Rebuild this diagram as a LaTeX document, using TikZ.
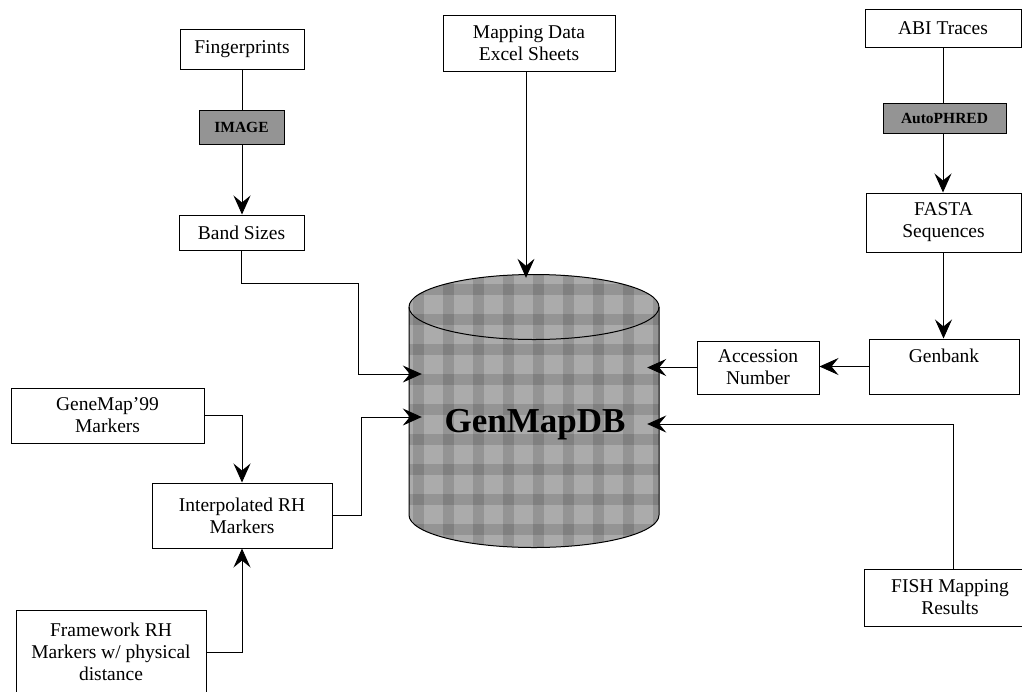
\documentclass[tikz,border=0pt]{standalone}
\usepackage{fontspec}
\setmainfont{Liberation Serif}
\usetikzlibrary{arrows.meta,calc}
\tikzset{
  box/.style={draw, line width=1pt, align=center, inner sep=0pt, fill=white,
    font=\fontsize{19.5}{22}\selectfont},
  toolbox/.style={draw, line width=1pt, fill=black!42, inner sep=0pt,
    font=\bfseries\fontsize{15.5}{18}\selectfont},
  conn/.style={line width=0.9pt},
  arr/.style={conn, -{Stealth[length=19pt,width=17pt,inset=7pt]}},
  cylline/.style={line width=1pt}
}
\begin{document}
\begin{tikzpicture}[x=1pt,y=-1pt]
\fill[white] (0,0) rectangle (1022,691);
\useasboundingbox (0,0) rectangle (1022,691);

% boxes
\node[box, minimum width=124pt, minimum height=40pt] (fp) at (242,49) {Fingerprints};
\node[box, minimum width=125pt, minimum height=35pt] (band) at (241.5,232.5) {Band Sizes};
\node[box, minimum width=172pt, minimum height=56pt] (map) at (529,43) {Mapping Data\\Excel Sheets};
\node[box, minimum width=156pt, minimum height=38pt] (abi) at (943,28) {ABI Traces};
\node[box, minimum width=155pt, minimum height=59pt] (fasta) at (943.5,222.5) {FASTA\\Sequences};
\node[box, minimum width=150pt, minimum height=55pt] (gen) at (944,366.5) {Genbank\\\mbox{}};
\node[box, minimum width=122pt, minimum height=53pt] (acc) at (758,367.5) {Accession\\Number};
\node[box, minimum width=172pt, minimum height=57pt] (fish) at (950,597.5) {FISH Mapping\\Results};
\node[box, minimum width=193pt, minimum height=55pt] (gmap) at (107.5,415.5) {GeneMap’99\\Markers};
\node[box, minimum width=180pt, minimum height=65pt] (interp) at (242,515.5) {Interpolated RH\\Markers};
\node[box, minimum width=190pt, minimum height=84pt] (frame) at (111,652) {Framework RH\\Markers w/ physical\\distance};

% database cylinder
\begin{scope}
  \clip (409,307) -- (409,515)
    arc[start angle=180, end angle=360, x radius=125pt, y radius=32.5pt]
    -- (659,307)
    arc[start angle=0, end angle=180, x radius=125pt, y radius=32.5pt] -- cycle;
  \fill[black!33] (400,265) rectangle (670,560);
  \foreach \xx in {413,443,...,653}
    \fill[black, opacity=0.13] (\xx,265) rectangle ++(11,295);
  \foreach \yy in {284,314,...,554}
    \fill[black, opacity=0.13] (400,\yy) rectangle ++(270,11);
\end{scope}
\draw[cylline] (409,307) -- (409,515)
    arc[start angle=180, end angle=360, x radius=125pt, y radius=32.5pt]
    -- (659,307)
    arc[start angle=0, end angle=180, x radius=125pt, y radius=32.5pt] -- cycle;
\draw[cylline] (409,307)
    arc[start angle=180, end angle=360, x radius=125pt, y radius=32.5pt];
\node[inner sep=0pt, minimum width=225pt, minimum height=269pt] (dbin) at (534.5,412.5) {};
\node[anchor=base, inner sep=0pt, font=\bfseries\fontsize{35}{40}\selectfont] (db) at (535,432) {GenMapDB};

% bend points
\coordinate (bA) at (358,283);
\coordinate (bB) at (358,374);
\coordinate (iA) at (361,417);
\coordinate (fA) at (953,424);

% connectors
\draw[arr] (fp.south) -- (fp.south |- band.north);
\draw[arr] ([xshift=-3pt]map.south) -- ([xshift=-3pt]map.south |- dbin.north);
\draw[arr] (abi.south) -- (abi.south |- fasta.north);
\draw[arr] (fasta.south) -- (fasta.south |- gen.north);
\draw[arr] (gen.west) -- (gen.west -| acc.east);
\draw[arr] (acc.west) -- (acc.west -| dbin.east);
\draw[arr] (fish.north -| fA) -- (fA) -- (fA -| dbin.east);
\draw[arr] (band.south) |- (bA) -- (bB) -- (bB -| dbin.west);
\draw[arr] (gmap.east) -| (interp.north);
\draw[arr] (frame.east) -| (interp.south);
\draw[arr] (interp.east) -| (iA) -- (iA -| dbin.west);

% tool boxes on the lines
\node[toolbox, minimum width=85pt, minimum height=34pt] (img) at (241.5,127) {IMAGE};
\node[toolbox, minimum width=123pt, minimum height=30pt] (auto) at (944.5,118) {AutoPHRED};
\end{tikzpicture}
\end{document}
